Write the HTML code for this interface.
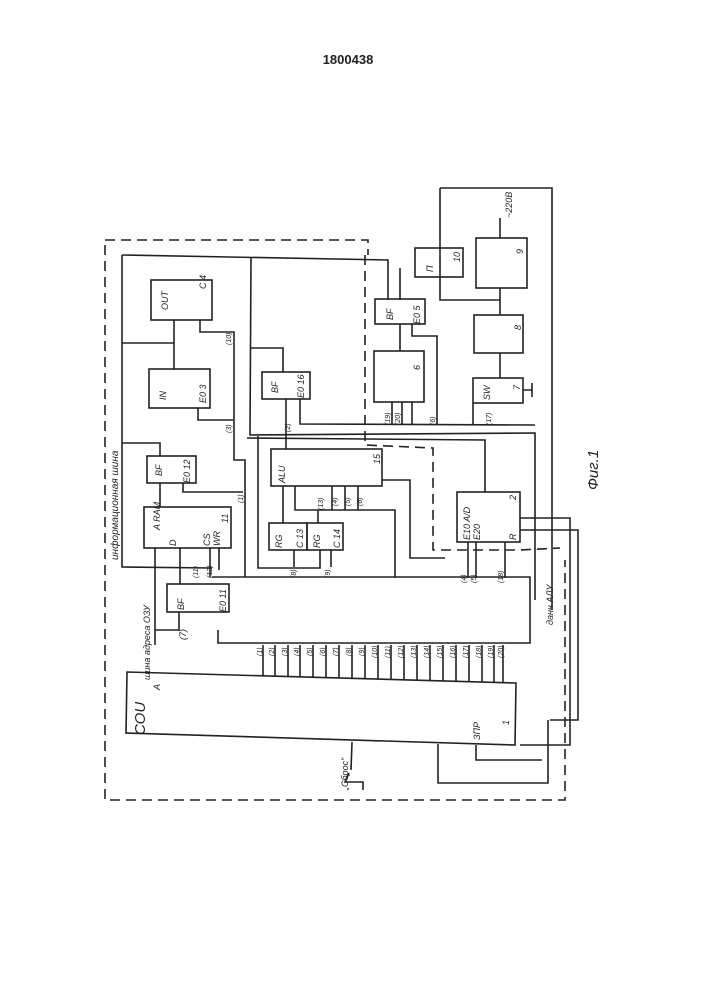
<!DOCTYPE html>
<html><head><style>
body{margin:0;background:#fff;}
svg{display:block;font-family:"Liberation Sans","Noto Sans CJK SC",sans-serif;font-style:italic;}
text{fill:#222;}
</style></head><body>
<svg width="707" height="1000" viewBox="0 0 707 1000" xmlns="http://www.w3.org/2000/svg">
<rect width="707" height="1000" fill="#fff"/>
<text x="348" y="64" font-size="13" font-weight="bold" font-style="normal" text-anchor="middle">1800438</text>
<g stroke="#222" fill="none" stroke-width="1.6">
<path d="M105 245 L105 800 L565 800 L565 560" stroke-dasharray="10,6"/>
<path d="M105 240 L368 240 L368 255" stroke-dasharray="10,6"/>
<path d="M365 255 L365 445 L433 448 L433 550 L520 550 L560 548" stroke-dasharray="10,6"/>
<path d="M122 255 L388 260 L388 300"/>
<path d="M122 255 L122 567 L212 568"/>
<path d="M251 258 L250 435 L535 433 L535 600"/>
<path d="M122 343 L174 343"/>
<path d="M174 320 L174 370"/>
<path d="M200 320 L200 332 L234 332 L234 460 L245 460 L245 577"/>
<path d="M198 408 L198 420 L233 420"/>
<path d="M122 443 L160 443 L160 456"/>
<path d="M183 483 L183 492 L243 492"/>
<path d="M160 483 L160 507"/>
<path d="M247 438 L485 440 L485 492"/>
<path d="M250 348 L283 348 L283 372"/>
<path d="M286 399 L286 449"/>
<path d="M300 399 L300 424 L535 425"/>
<path d="M258 436 L258 568 L320 568 L320 550"/>
<path d="M283 486 L283 523"/>
<path d="M295 486 L295 510 L395 510 L395 578"/>
<path d="M318 510 L318 523"/>
<path d="M332 486 L332 510 M345 486 L345 510 M358 486 L358 510"/>
<path d="M382 480 L410 480 L410 558 L445 558"/>
<path d="M294 550 L294 567 M331 550 L331 567"/>
<path d="M400 268 L400 300 M400 324 L400 351"/>
<path d="M412 324 L412 336 L437 336 L437 424"/>
<path d="M392 402 L392 425 M402 402 L402 425 M412 402 L412 425"/>
<path d="M440 188 L552 188 L552 610"/>
<path d="M440 188 L440 300 L500 300"/>
<path d="M500 288 L500 315 M500 353 L500 378"/>
<path d="M500 238 L500 218"/>
<path d="M523 390 L532 390 M532 383 L532 397"/>
<path d="M473 424 L473 403"/>
<path d="M520 518 L570 518 L570 745 L520 745"/>
<path d="M520 530 L578 530 L578 720 L550 720"/>
<path d="M468 542 L468 578 M476 542 L476 578 M505 542 L505 578"/>
<path d="M212 577 L530 577 L530 643 L218 643 L218 630"/>
<path d="M155 645 L155 548 M179 612 L179 630 L155 630"/>
<path d="M180 548 L180 584"/>
<path d="M210 548 L210 577 M219 548 L219 570"/>
<polygon points="127,672 516,683 515,745 126,733"/>
<path d="M438 744 L438 783 L548 783 L548 720"/>
<path d="M476 745 L476 760 L542 760"/>
<path d="M352 742 L351 770 M349 773 L345 782 L363 782 L363 790"/>
<path d="M263 645 L263 675 M275 645 L275 676 M288 645 L288 676 M300 645 L300 677 M313 645 L313 677 M326 645 L326 677 M339 645 L339 678 M352 645 L352 678 M365 645 L365 679 M378 645 L378 679 M391 645 L391 679 M404 645 L404 680 M417 645 L417 680 M430 645 L430 680 M443 645 L443 681 M456 645 L456 681 M469 645 L469 681 M482 645 L482 682 M494 645 L494 682 M503 645 L503 682"/>
<rect x="151" y="280" width="61" height="40"/>
<rect x="149" y="369" width="61" height="39"/>
<rect x="147" y="456" width="49" height="27"/>
<rect x="144" y="507" width="87" height="41"/>
<rect x="262" y="372" width="48" height="27"/>
<rect x="271" y="449" width="111" height="37"/>
<rect x="269" y="523" width="38" height="27"/>
<rect x="307" y="523" width="36" height="27"/>
<rect x="375" y="299" width="50" height="25"/>
<rect x="374" y="351" width="50" height="51"/>
<rect x="415" y="248" width="48" height="29"/>
<rect x="476" y="238" width="51" height="50"/>
<rect x="474" y="315" width="49" height="38"/>
<rect x="473" y="378" width="50" height="25"/>
<rect x="457" y="492" width="63" height="50"/>
<rect x="167" y="584" width="62" height="28"/>
</g>
<g font-size="9">
<text transform="translate(168,310) rotate(-90)">OUT</text>
<text transform="translate(206,289) rotate(-90)">C 4</text>
<text transform="translate(166,400) rotate(-90)">IN</text>
<text transform="translate(206,403) rotate(-90)">E0 3</text>
<text transform="translate(162,476) rotate(-90)">BF</text>
<text transform="translate(190,483) rotate(-90)">E0 12</text>
<text transform="translate(160,530) rotate(-90)">A RAM</text>
<text transform="translate(176,546) rotate(-90)">D</text>
<text transform="translate(210,546) rotate(-90)">CS</text>
<text transform="translate(220,546) rotate(-90)">WR</text>
<text transform="translate(228,523) rotate(-90)">11</text>
<text transform="translate(278,393) rotate(-90)">BF</text>
<text transform="translate(304,398) rotate(-90)">E0 16</text>
<text transform="translate(285,483) rotate(-90)">ALU</text>
<text transform="translate(380,464) rotate(-90)">15</text>
<text transform="translate(282,548) rotate(-90)">RG</text>
<text transform="translate(303,548) rotate(-90)">C 13</text>
<text transform="translate(320,548) rotate(-90)">RG</text>
<text transform="translate(340,548) rotate(-90)">C 14</text>
<text transform="translate(393,320) rotate(-90)">BF</text>
<text transform="translate(420,324) rotate(-90)">E0 5</text>
<text transform="translate(420,370) rotate(-90)">6</text>
<text transform="translate(433,272) rotate(-90)">П</text>
<text transform="translate(460,262) rotate(-90)">10</text>
<text transform="translate(523,254) rotate(-90)">9</text>
<text transform="translate(521,330) rotate(-90)">8</text>
<text transform="translate(490,400) rotate(-90)">SW</text>
<text transform="translate(520,390) rotate(-90)">7</text>
<text transform="translate(470,540) rotate(-90)">E10 A/D</text>
<text transform="translate(480,540) rotate(-90)">E20</text>
<text transform="translate(516,540) rotate(-90)">R</text>
<text transform="translate(516,500) rotate(-90)">2</text>
<text transform="translate(512,218) rotate(-90)">~220В</text>
<text transform="translate(184,610) rotate(-90)">BF</text>
<text transform="translate(226,612) rotate(-90)">E0 11</text>
<text transform="translate(186,640) rotate(-90)">(7)</text>
<text transform="translate(145,735) rotate(-90)" font-size="15">СОU</text>
<text transform="translate(160,690) rotate(-90)">A</text>
<text transform="translate(509,725) rotate(-90)">1</text>
<text transform="translate(480,740) rotate(-90)">ЗПР</text>
<text transform="translate(118,560) rotate(-90)" font-size="10">информационная  шина</text>
<text transform="translate(150,680) rotate(-90)">шина адреса ОЗУ</text>
<text transform="translate(553,625) rotate(-90)">данн АЛУ</text>
<text transform="translate(348,790) rotate(-90)">„Сброс"</text>
<text transform="translate(598,490) rotate(-90)" font-size="15">Фиг.1</text>
</g>
<g font-size="7">
<text transform="translate(231,345) rotate(-90)">(10)</text>
<text transform="translate(231,433) rotate(-90)">(3)</text>
<text transform="translate(243,503) rotate(-90)">(1)</text>
<text transform="translate(198,578) rotate(-90)">(11)</text>
<text transform="translate(212,578) rotate(-90)">(12)</text>
<text transform="translate(290,432) rotate(-90)">(2)</text>
<text transform="translate(296,578) rotate(-90)">(8)</text>
<text transform="translate(330,578) rotate(-90)">(9)</text>
<text transform="translate(323,510) rotate(-90)">(13)</text>
<text transform="translate(337,506) rotate(-90)">(4)</text>
<text transform="translate(350,506) rotate(-90)">(5)</text>
<text transform="translate(362,506) rotate(-90)">(6)</text>
<text transform="translate(390,425) rotate(-90)">(19)</text>
<text transform="translate(400,425) rotate(-90)">(20)</text>
<text transform="translate(435,425) rotate(-90)">(6)</text>
<text transform="translate(491,425) rotate(-90)">(17)</text>
<text transform="translate(466,583) rotate(-90)">(4)</text>
<text transform="translate(476,583) rotate(-90)">(5)</text>
<text transform="translate(503,583) rotate(-90)">(18)</text>
<text transform="translate(262,656) rotate(-90)">(1)</text>
<text transform="translate(274,656) rotate(-90)">(2)</text>
<text transform="translate(287,656) rotate(-90)">(3)</text>
<text transform="translate(299,656) rotate(-90)">(4)</text>
<text transform="translate(312,656) rotate(-90)">(5)</text>
<text transform="translate(325,656) rotate(-90)">(6)</text>
<text transform="translate(338,656) rotate(-90)">(7)</text>
<text transform="translate(351,656) rotate(-90)">(8)</text>
<text transform="translate(364,656) rotate(-90)">(9)</text>
<text transform="translate(377,658) rotate(-90)">(10)</text>
<text transform="translate(390,658) rotate(-90)">(11)</text>
<text transform="translate(403,658) rotate(-90)">(12)</text>
<text transform="translate(416,658) rotate(-90)">(13)</text>
<text transform="translate(429,658) rotate(-90)">(14)</text>
<text transform="translate(442,658) rotate(-90)">(15)</text>
<text transform="translate(455,658) rotate(-90)">(16)</text>
<text transform="translate(468,658) rotate(-90)">(17)</text>
<text transform="translate(481,658) rotate(-90)">(18)</text>
<text transform="translate(493,658) rotate(-90)">(19)</text>
<text transform="translate(503,658) rotate(-90)">(20)</text>
</g>
</svg>
</body></html>
